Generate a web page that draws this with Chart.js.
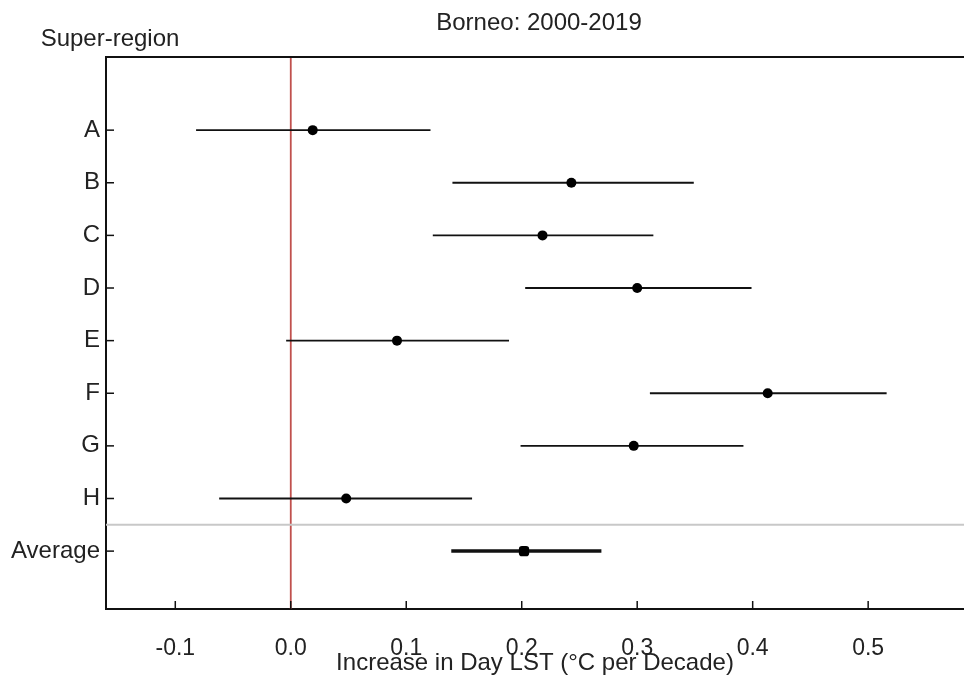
<!DOCTYPE html>
<html>
<head>
<meta charset="utf-8">
<script src="https://cdn.jsdelivr.net/npm/chart.js@4/dist/chart.umd.min.js"></script>
<style>
  html, body { margin: 0; padding: 0; background: #ffffff; }
  #wrap { width: 964px; height: 679px; }
</style>
</head>
<body>
<div id="wrap"><canvas id="c" width="964" height="679"></canvas></div>
<script>
const categories = ['A', 'B', 'C', 'D', 'E', 'F', 'G', 'H', 'Average'];
const estimates  = [0.019, 0.243, 0.218, 0.300, 0.092, 0.413, 0.297, 0.048, 0.202];
const lowerCI    = [-0.082, 0.140, 0.123, 0.203, -0.004, 0.311, 0.199, -0.062, 0.139];
const upperCI    = [0.121, 0.349, 0.314, 0.399, 0.189, 0.516, 0.392, 0.157, 0.269];
const xTickValues = [-0.1, 0.0, 0.1, 0.2, 0.3, 0.4, 0.5];
const chartTitle = 'Borneo: 2000-2019';
const yAxisHeader = 'Super-region';
const xAxisTitle = 'Increase in Day LST (\u00B0C per Decade)';

const FONT = '"Liberation Sans", Arial, sans-serif';
const X_MIN = -0.16, X_MAX = 0.583, Y_MIN = -0.39, Y_MAX = 10.1;
const yPos = categories.map((c, i) => i + 1);
const avgIdx = categories.indexOf('Average');

const datasets = [];
// points
datasets.push({
  type: 'scatter',
  data: estimates.map((v, i) => ({ x: v, y: yPos[i] })),
  pointRadius: estimates.map((v, i) => i === avgIdx ? 6 : 5),
  pointStyle: estimates.map((v, i) => i === avgIdx ? 'rectRounded' : 'circle'),
  backgroundColor: '#000',
  borderColor: '#000',
  borderWidth: 0,
  order: 0
});
// intervals
categories.forEach((c, i) => {
  datasets.push({
    type: 'scatter',
    showLine: true,
    data: [{ x: lowerCI[i], y: yPos[i] }, { x: upperCI[i], y: yPos[i] }],
    borderColor: '#111',
    borderWidth: i === avgIdx ? 3.5 : 1.8,
    pointRadius: 0,
    order: 1
  });
});
// zero reference line
datasets.push({
  type: 'scatter', showLine: true,
  data: [{ x: 0, y: Y_MIN }, { x: 0, y: Y_MAX }],
  borderColor: '#c0504d', borderWidth: 1.8, pointRadius: 0, order: 3
});
// separator line before Average
datasets.push({
  type: 'scatter', showLine: true,
  data: [{ x: X_MIN, y: avgIdx + 0.5 }, { x: X_MAX, y: avgIdx + 0.5 }],
  borderColor: '#c8c8c8', borderWidth: 2, pointRadius: 0, order: 2
});

const decor = {
  id: 'decor',
  afterDraw(chart) {
    const { ctx, chartArea, scales } = chart;
    ctx.save();
    ctx.strokeStyle = '#111';
    ctx.lineWidth = 2;
    // top frame line
    ctx.beginPath();
    ctx.moveTo(chartArea.left - 1, chartArea.top);
    ctx.lineTo(chartArea.right, chartArea.top);
    ctx.stroke();
    // inward tick marks
    ctx.lineWidth = 1.5;
    scales.x.ticks.forEach(t => {
      const px = scales.x.getPixelForValue(t.value);
      ctx.beginPath();
      ctx.moveTo(px, chartArea.bottom);
      ctx.lineTo(px, chartArea.bottom - 8);
      ctx.stroke();
    });
    scales.y.ticks.forEach(t => {
      const py = scales.y.getPixelForValue(t.value);
      ctx.beginPath();
      ctx.moveTo(chartArea.left, py);
      ctx.lineTo(chartArea.left + 8, py);
      ctx.stroke();
    });
    // texts
    ctx.fillStyle = '#222';
    ctx.font = '24px ' + FONT;
    ctx.textAlign = 'center';
    ctx.textBaseline = 'alphabetic';
    ctx.fillText(chartTitle, 539, 30);
    ctx.fillText(yAxisHeader, 110, 46);
    ctx.restore();
  }
};

new Chart(document.getElementById('c'), {
  type: 'scatter',
  data: { datasets },
  plugins: [decor],
  options: {
    responsive: false,
    animation: false,
    events: [],
    layout: { autoPadding: false, padding: { top: 57, right: 0, left: 0, bottom: 0 } },
    plugins: { legend: { display: false }, tooltip: { enabled: false }, title: { display: false } },
    scales: {
      x: {
        type: 'linear', min: X_MIN, max: X_MAX,
        afterBuildTicks: s => { s.ticks = xTickValues.map(v => ({ value: v })); },
        afterFit: s => { s.height = 70; s.paddingRight = 0; s.paddingLeft = 0; },
        ticks: {
          callback: v => Number(v).toFixed(1),
          font: { family: FONT, size: 23 }, color: '#222', padding: 26, maxRotation: 0
        },
        grid: { drawOnChartArea: false, drawTicks: false },
        border: { display: true, color: '#111', width: 2 },
        title: { display: true, text: xAxisTitle, color: '#222', font: { family: FONT, size: 24 }, padding: { top: 0, bottom: 1 } }
      },
      y: {
        type: 'linear', reverse: true, min: Y_MIN, max: Y_MAX,
        afterBuildTicks: s => { s.ticks = yPos.map(v => ({ value: v })); },
        afterFit: s => { s.width = 106; },
        ticks: {
          callback: v => categories[v - 1],
          font: { family: FONT, size: 24 }, color: '#222', padding: 6
        },
        grid: { drawOnChartArea: false, drawTicks: false },
        border: { display: true, color: '#111', width: 2 }
      }
    }
  }
});
</script>
</body>
</html>
